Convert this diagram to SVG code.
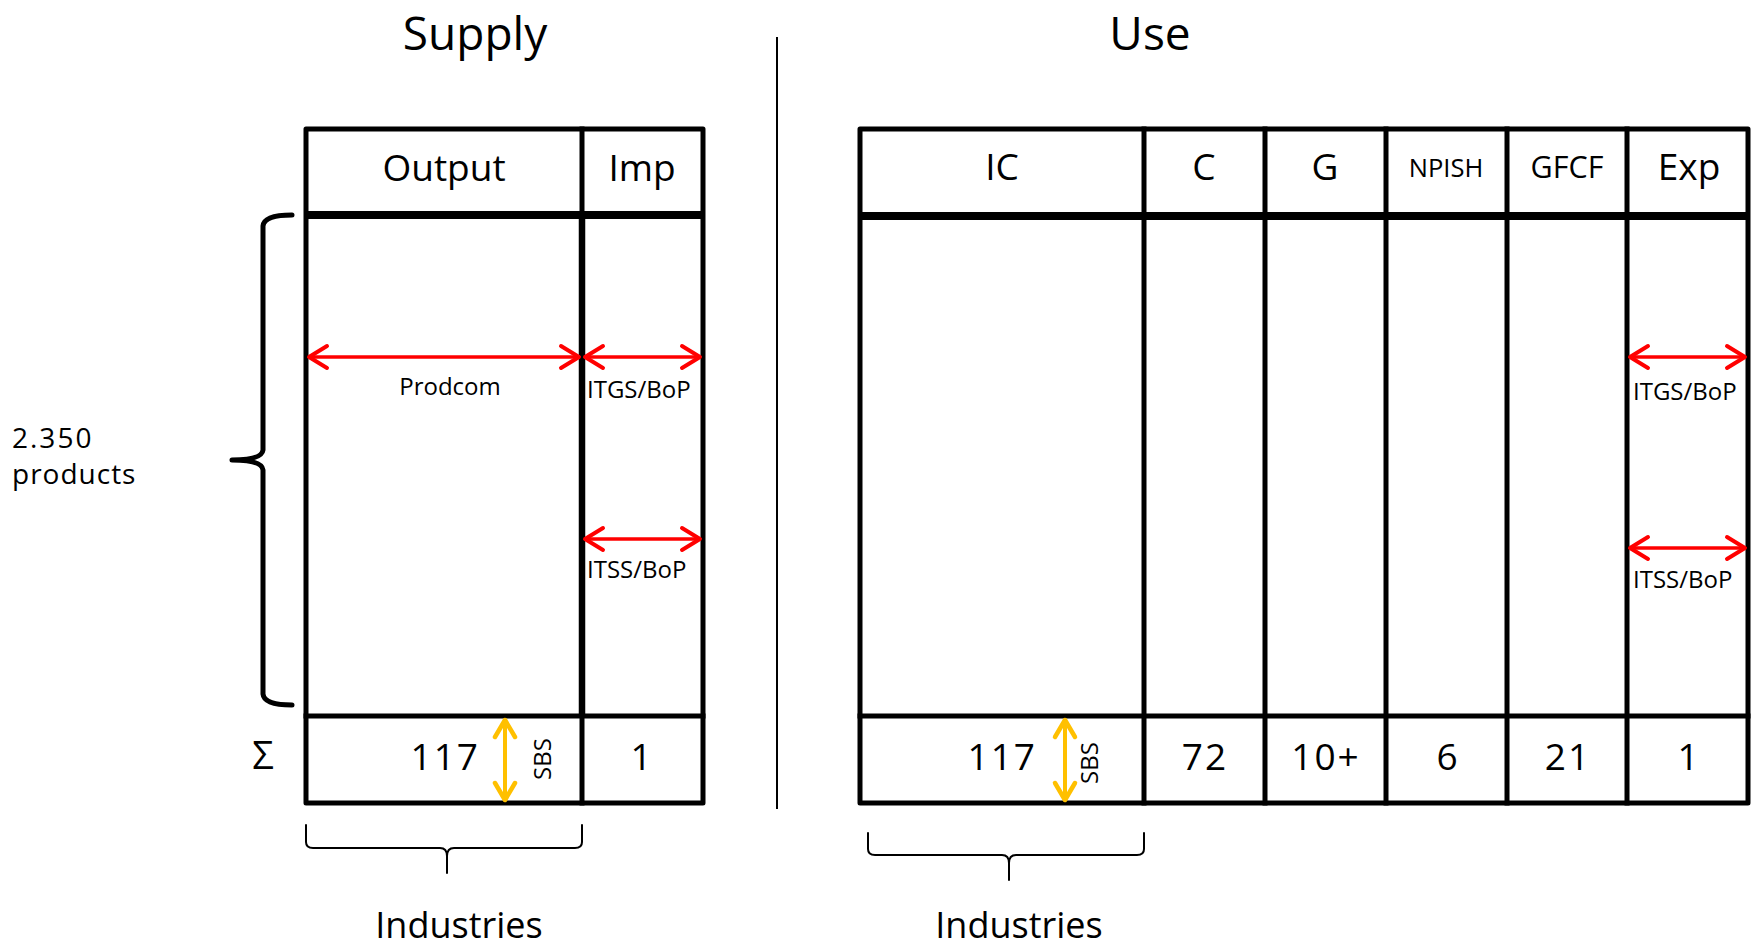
<svg xmlns="http://www.w3.org/2000/svg" width="1756" height="950" viewBox="0 0 1756 950">
<style>
text{font-family:"Open Sans","Liberation Sans",sans-serif;fill:#000}
.t{stroke:#000;stroke-width:5;fill:none;stroke-linejoin:round;stroke-linecap:square}
.hs{stroke:#000;stroke-width:8;fill:none}
.br{stroke:#000;fill:none;stroke-linecap:round;stroke-linejoin:round}
.red{stroke:#FF0000;stroke-width:3.5;fill:none;marker-start:url(#ar);marker-end:url(#ar)}
.yel{stroke:#FFC000;stroke-width:4;fill:none;marker-start:url(#ay);marker-end:url(#ay)}
.title{font-size:46px;text-anchor:middle}
.hd{font-size:37px;text-anchor:middle}
.num{font-size:37px;text-anchor:middle;letter-spacing:2px}
.sm{font-size:24px}
</style>
<defs>
<marker id="ar" markerUnits="userSpaceOnUse" markerWidth="30" markerHeight="30" viewBox="-25 -15 30 30" refX="0" refY="0" orient="auto-start-reverse">
<path d="M-18,-11 L0,0 L-18,11" fill="none" stroke="#FF0000" stroke-width="4" stroke-linecap="round" stroke-linejoin="round"/>
</marker>
<marker id="ay" markerUnits="userSpaceOnUse" markerWidth="30" markerHeight="30" viewBox="-25 -15 30 30" refX="0" refY="0" orient="auto-start-reverse">
<path d="M-17,-10 L0,0 L-17,10" fill="none" stroke="#FFC000" stroke-width="4.5" stroke-linecap="round" stroke-linejoin="round"/>
</marker>
</defs>
<rect width="1756" height="950" fill="#fff"/>

<g id="titles">
<text class="title" x="475" y="50">Supply</text>
<text class="title" x="1150" y="50">Use</text>
<line x1="777" y1="37" x2="777" y2="809" stroke="#000" stroke-width="2"/>
</g>

<g id="supply-table">
<rect class="t" x="306" y="129" width="397" height="674"/>
<line class="hs" x1="306" y1="215" x2="703" y2="215"/>
<line class="t" x1="306" y1="716" x2="703" y2="716"/>
<line class="t" x1="582" y1="129" x2="582" y2="803"/>
<line x1="582" y1="215" x2="582" y2="716" stroke="#000" stroke-width="6.5"/>
<text class="hd" x="444" y="181">Output</text>
<text class="hd" x="642" y="181">Imp</text>
<text class="num" x="480" y="770" style="text-anchor:end">117</text>
<text class="num" x="642" y="770">1</text>
<text class="sm" transform="translate(551,759) rotate(-90)" text-anchor="middle">SBS</text>
<text class="sm" x="450" y="395" text-anchor="middle">Prodcom</text>
<text class="sm" x="587" y="398">ITGS/BoP</text>
<text class="sm" x="587" y="578">ITSS/BoP</text>
</g>

<g id="use-table">
<rect class="t" x="860" y="129" width="888" height="674"/>
<line class="hs" x1="860" y1="216" x2="1748" y2="216"/>
<line class="t" x1="860" y1="716" x2="1748" y2="716"/>
<line class="t" x1="1144" y1="129" x2="1144" y2="803"/>
<line class="t" x1="1265" y1="129" x2="1265" y2="803"/>
<line class="t" x1="1386" y1="129" x2="1386" y2="803"/>
<line class="t" x1="1507" y1="129" x2="1507" y2="803"/>
<line class="t" x1="1627" y1="129" x2="1627" y2="803"/>
<text class="hd" x="1002" y="180">IC</text>
<text class="hd" x="1204" y="180">C</text>
<text class="hd" x="1325" y="180">G</text>
<text x="1446" y="177" font-size="25.5" text-anchor="middle">NPISH</text>
<text x="1567" y="178" font-size="30.5" text-anchor="middle">GFCF</text>
<text class="hd" x="1689" y="180">Exp</text>
<text class="num" x="1037" y="770" style="text-anchor:end">117</text>
<text class="num" x="1205" y="770">72</text>
<text class="num" x="1326" y="770">10+</text>
<text class="num" x="1448" y="770">6</text>
<text class="num" x="1568" y="770">21</text>
<text class="num" x="1689" y="770">1</text>
<text class="sm" transform="translate(1098,763) rotate(-90)" text-anchor="middle">SBS</text>
<text class="sm" x="1633" y="400">ITGS/BoP</text>
<text class="sm" x="1633" y="588">ITSS/BoP</text>
</g>

<g id="products-brace">
<path class="br" stroke-width="5" d="M292,215 Q264,215 263,226 L263,450 Q262,460 232,460 Q262,460 263,470 L263,694 Q264,705 292,705"/>
<text x="12" y="448" font-size="28" letter-spacing="2">2.350</text>
<text x="12" y="484" font-size="28" letter-spacing="1">products</text>
<text x="263" y="769" font-size="38" text-anchor="middle">Σ</text>
</g>

<g id="supply-industries">
<path class="br" stroke-width="2" d="M306,825 L306,842 Q306,848 313,848 L440,848 Q447,848 447,856 L447,873 M447,856 Q447,848 454,848 L575,848 Q582,848 582,842 L582,825"/>
<text x="459" y="938" font-size="36" text-anchor="middle">Industries</text>
</g>

<g id="use-industries">
<path class="br" stroke-width="2" d="M868,833 L868,849 Q868,855 875,855 L1002,855 Q1009,855 1009,863 L1009,880 M1009,863 Q1009,855 1016,855 L1137,855 Q1144,855 1144,849 L1144,833"/>
<text x="1019" y="938" font-size="36" text-anchor="middle">Industries</text>
</g>

<g id="connectors">
<line class="red" x1="309" y1="357" x2="579" y2="357"/>
<line class="red" x1="585" y1="357" x2="700" y2="357"/>
<line class="red" x1="585" y1="539" x2="700" y2="539"/>
<line class="red" x1="1630" y1="357" x2="1745" y2="357"/>
<line class="red" x1="1630" y1="548" x2="1745" y2="548"/>
<line class="yel" x1="505" y1="720" x2="505" y2="800"/>
<line class="yel" x1="1065" y1="720" x2="1065" y2="800"/>
</g>
</svg>
